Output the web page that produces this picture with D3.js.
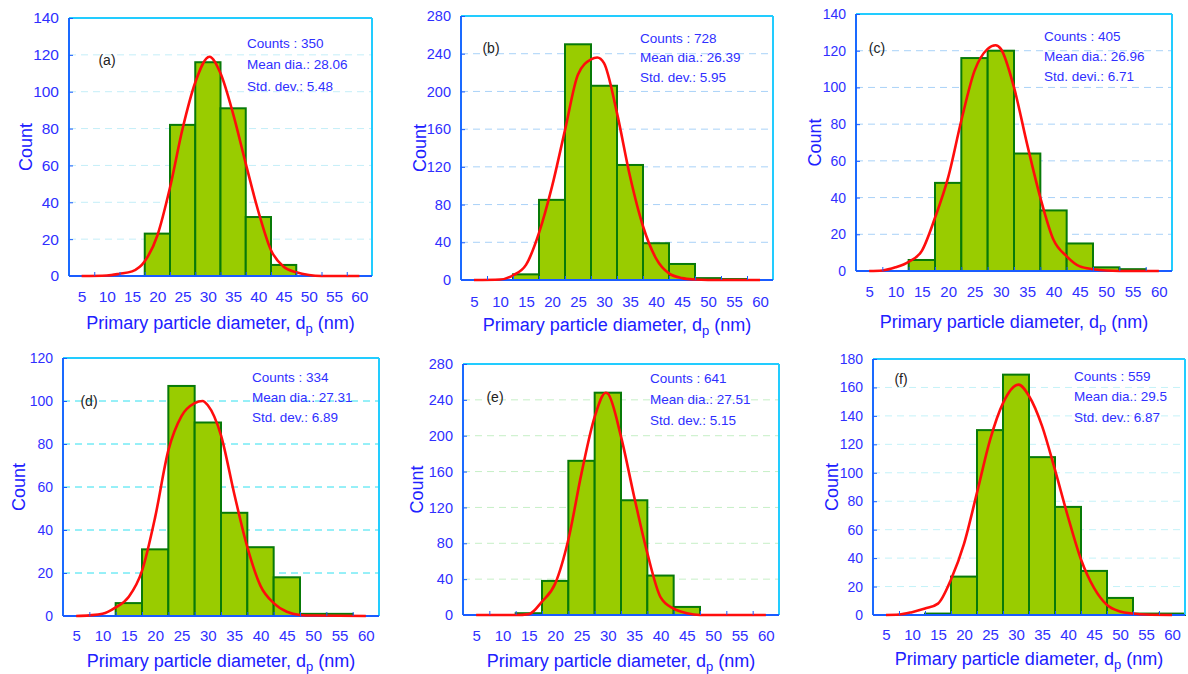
<!DOCTYPE html>
<html>
<head>
<meta charset="utf-8">
<script src="https://cdn.jsdelivr.net/npm/d3@7"></script>
<style>
  body { margin: 0; background: #fff; }
  svg { display: block; }
  text { font-family: "Liberation Sans", Arial, sans-serif; }
</style>
</head>
<body>
<svg id="chart" width="1188" height="674"></svg>
<script>
// bin centres (nm) shared by all six histograms
const binCenters = [5, 10, 15, 20, 25, 30, 35, 40, 45, 50, 55, 60];
const xTickLabels = [5, 10, 15, 20, 25, 30, 35, 40, 45, 50, 55, 60];
const binEdges = [7.5, 12.5, 17.5, 22.5, 27.5, 32.5, 37.5, 42.5, 47.5, 52.5, 57.5];

// counts per bin
const countsA = [0, 0, 0, 23, 82, 116, 91, 32, 6, 0, 0, 0];
const countsB = [0, 0, 6, 85, 250, 206, 122, 39, 17, 2, 1, 0];
const countsC = [0, 0, 6, 48, 116, 120, 64, 33, 15, 2, 1, 0];
const countsD = [0, 0, 6, 31, 107, 90, 48, 32, 18, 1, 1, 0];
const countsE = [0, 0, 2, 38, 172, 248, 128, 44, 9, 0, 0, 0];
const countsF = [0, 0, 1, 27, 130, 169, 111, 76, 31, 12, 1, 1];

// fitted curves [diameter, count]
const fitA = [[5,0],[10,0.3],[12.5,1.2],[15,2.5],[17.5,8],[20,22],[22.5,48],[25,80],[27.5,105],[30.3,119],[32.5,110],[35,88],[37.5,61],[40,35],[42.5,14],[45,5],[47.5,2],[50,0.5],[52.5,0],[60,0]];
const fitB = [[5,0],[10,0.5],[12.5,5],[15,16],[17.5,50],[20,99],[22.5,159],[25,218],[27.5,234],[28.7,236],[30,230],[32.5,177],[35,110],[37.5,57],[40,23],[42.5,7],[45,2],[47.5,0.5],[50,0],[60,0]];
const fitC = [[5,0],[7.5,0.3],[10,2],[12.5,5],[15,11],[17.5,29],[20,51],[22.5,82],[25,109],[27.5,121],[29,123],[30,121],[32.5,100],[35,69],[37.5,40],[40,17],[42.5,8],[45,2.5],[47.5,1],[50,0.3],[55,0],[60,0]];
const fitD = [[5,0],[7.5,0.3],[10,1],[12.5,4],[15,9],[17.5,21],[20,46],[22.5,77],[25,93],[27.5,99],[29,100],[30,98],[32.5,84],[35,57],[37.5,32],[40,14],[42.5,6],[45,2],[47.5,0.5],[50,0.2],[60,0]];
const fitE = [[5,0],[12.5,0],[15,1],[17.5,15],[20,35],[22.5,84],[25,158],[27.5,221],[29.6,248],[30,247],[32.5,199],[35,132],[37.5,69],[40,20],[42.5,7],[45,2],[47.5,0],[60,0]];
const fitF = [[5,0],[7.5,0.3],[10,2],[12.5,4.5],[15,8],[17.5,25],[20,50],[22.5,86],[25,123],[27.5,149],[30.5,162],[32.5,154],[35,133],[37.5,102],[40,69],[42.5,39],[45,19],[47.5,7],[50,2.5],[52.5,1],[55,0.3],[60,0]];

// statistics boxes
const statsA = ["Counts : 350", "Mean dia.: 28.06", "Std. dev.: 5.48"];
const statsB = ["Counts : 728", "Mean dia.: 26.39", "Std. dev.: 5.95"];
const statsC = ["Counts : 405", "Mean dia.: 26.96", "Std. devi.: 6.71"];
const statsD = ["Counts : 334", "Mean dia.: 27.31", "Std. dev.: 6.89"];
const statsE = ["Counts : 641", "Mean dia.: 27.51", "Std. dev.: 5.15"];
const statsF = ["Counts : 559", "Mean dia.: 29.5", "Std. dev.: 6.87"];

const panelLabels = ["(a)", "(b)", "(c)", "(d)", "(e)", "(f)"];
const yMaxes = [140, 280, 140, 120, 280, 180];
const ySteps = [20, 40, 20, 20, 40, 20];

// where each panel sits on the page
const layout = [
  { l: 69,  r: 372,  t: 18,  b: 276, tickY: 297, titleY: 323, countX: 26,  statsX: 247,  statsY: 43,  statsDy: 21.5, labelX: 107, labelY: 60,  grid: "#c4eef8", yFont: 15.5, xFont: 15.5 },
  { l: 461, r: 773,  t: 16,  b: 280, tickY: 302, titleY: 325, countX: 420, statsX: 640,  statsY: 38,  statsDy: 19.5, labelX: 491, labelY: 48,  grid: "#a9d2f8", yFont: 14.5, xFont: 15 },
  { l: 856, r: 1172, t: 14,  b: 271, tickY: 292, titleY: 322, countX: 815, statsX: 1044, statsY: 36,  statsDy: 20,   labelX: 877, labelY: 48,  grid: "#a9d2f8", yFont: 14,   xFont: 15 },
  { l: 63,  r: 379,  t: 358, b: 616, tickY: 636, titleY: 661, countX: 19,  statsX: 252,  statsY: 377, statsDy: 20,   labelX: 89,  labelY: 401, grid: "#2ee0f0", yFont: 14,   xFont: 15 },
  { l: 463, r: 779,  t: 364, b: 615, tickY: 636, titleY: 661, countX: 417, statsX: 650,  statsY: 378, statsDy: 21,   labelX: 495, labelY: 397, grid: "#c6efc6", yFont: 14.5, xFont: 15 },
  { l: 873, r: 1185, t: 359, b: 615, tickY: 635, titleY: 659, countX: 832, statsX: 1074, statsY: 376, statsDy: 20.5, labelX: 901, labelY: 379, grid: "#c4f2f8", yFont: 14,   xFont: 15 }
];

const allCounts = [countsA, countsB, countsC, countsD, countsE, countsF];
const allFits = [fitA, fitB, fitC, fitD, fitE, fitF];
const allStats = [statsA, statsB, statsC, statsD, statsE, statsF];

const blue = "#2f2fff";
const svg = d3.select("#chart");

layout.forEach((p, i) => {
  const g = svg.append("g");
  const x = d3.scaleLinear().domain([2.5, 62.5]).range([p.l, p.r]);
  const y = d3.scaleLinear().domain([0, yMaxes[i]]).range([p.b, p.t]);
  const yTicks = d3.range(0, yMaxes[i] + 1, ySteps[i]);

  // dashed grid lines
  g.append("g").selectAll("line")
    .data(yTicks.filter(v => v > 0 && v < yMaxes[i]))
    .enter().append("line")
    .attr("x1", p.l).attr("x2", p.r)
    .attr("y1", d => y(d)).attr("y2", d => y(d))
    .attr("stroke", p.grid).attr("stroke-width", 1)
    .attr("stroke-dasharray", "7,5");

  // histogram bars
  const bars = binCenters.map((c, j) => ({ c: c, v: allCounts[i][j] })).filter(d => d.v > 0);
  g.append("g").selectAll("rect")
    .data(bars)
    .enter().append("rect")
    .attr("x", d => x(d.c - 2.5))
    .attr("width", d => x(d.c + 2.5) - x(d.c - 2.5))
    .attr("y", d => y(d.v))
    .attr("height", d => y(0) - y(d.v))
    .attr("fill", "#99cc00")
    .attr("stroke", "#087a08")
    .attr("stroke-width", 2);

  // frame: top/right cyan, left/bottom blue
  g.append("line").attr("x1", p.l).attr("x2", p.r).attr("y1", p.t).attr("y2", p.t)
    .attr("stroke", "#22ccff").attr("stroke-width", 2);
  g.append("line").attr("x1", p.r).attr("x2", p.r).attr("y1", p.t).attr("y2", p.b)
    .attr("stroke", "#22ccff").attr("stroke-width", 2);
  g.append("line").attr("x1", p.l).attr("x2", p.l).attr("y1", p.t).attr("y2", p.b)
    .attr("stroke", "#1a6aff").attr("stroke-width", 2);
  g.append("line").attr("x1", p.l).attr("x2", p.r).attr("y1", p.b).attr("y2", p.b)
    .attr("stroke", "#1a5cff").attr("stroke-width", 2.2);

  // fitted curve
  const line = d3.line().x(d => x(d[0])).y(d => y(d[1])).curve(d3.curveMonotoneX);
  g.append("path")
    .attr("d", line(allFits[i]))
    .attr("fill", "none")
    .attr("stroke", "#ff0d0d")
    .attr("stroke-width", 2.6);

  // y axis
  const yAxis = g.append("g")
    .attr("transform", `translate(${p.l},0)`)
    .call(d3.axisLeft(y).tickValues(yTicks).tickSize(-4).tickPadding(10));
  yAxis.select(".domain").remove();
  yAxis.selectAll(".tick line").attr("stroke", "#1a5cff");
  yAxis.selectAll("text").attr("fill", blue).style("font-size", p.yFont + "px");

  // x axis: edge ticks and centred labels
  const xEdge = g.append("g")
    .attr("transform", `translate(0,${p.b})`)
    .call(d3.axisBottom(x).tickValues(binEdges).tickSize(-4).tickFormat(""));
  xEdge.select(".domain").remove();
  xEdge.selectAll(".tick line").attr("stroke", "#1a5cff");

  const xLab = g.append("g")
    .attr("transform", `translate(0,${p.b})`)
    .call(d3.axisBottom(x).tickValues(xTickLabels).tickSize(0)
      .tickPadding(p.tickY - p.b - 0.36 * p.xFont));
  xLab.select(".domain").remove();
  xLab.selectAll("text").attr("fill", blue).style("font-size", p.xFont + "px");

  // axis titles
  const title = g.append("text")
    .attr("x", (p.l + p.r) / 2)
    .attr("y", p.titleY + 6)
    .attr("text-anchor", "middle")
    .attr("fill", "#2020ff")
    .style("font-size", "18px");
  title.append("tspan").text("Primary particle diameter, d");
  title.append("tspan").text("p").style("font-size", "13px").attr("dy", 4);
  title.append("tspan").text(" (nm)").attr("dy", -4);

  g.append("text")
    .attr("transform", `translate(${p.countX + 6},${(p.t + p.b) / 2}) rotate(-90)`)
    .attr("text-anchor", "middle")
    .attr("fill", "#2020ff")
    .style("font-size", "18px")
    .text("Count");

  // stats text
  g.append("g").selectAll("text")
    .data(allStats[i])
    .enter().append("text")
    .attr("x", p.statsX)
    .attr("y", (d, k) => p.statsY + k * p.statsDy + 4.7)
    .attr("fill", blue)
    .style("font-size", "13.5px")
    .text(d => d);

  // panel letter
  g.append("text")
    .attr("x", p.labelX)
    .attr("y", p.labelY + 5)
    .attr("text-anchor", "middle")
    .attr("fill", "#222")
    .style("font-size", "14px")
    .text(panelLabels[i]);
});
</script>
</body>
</html>
